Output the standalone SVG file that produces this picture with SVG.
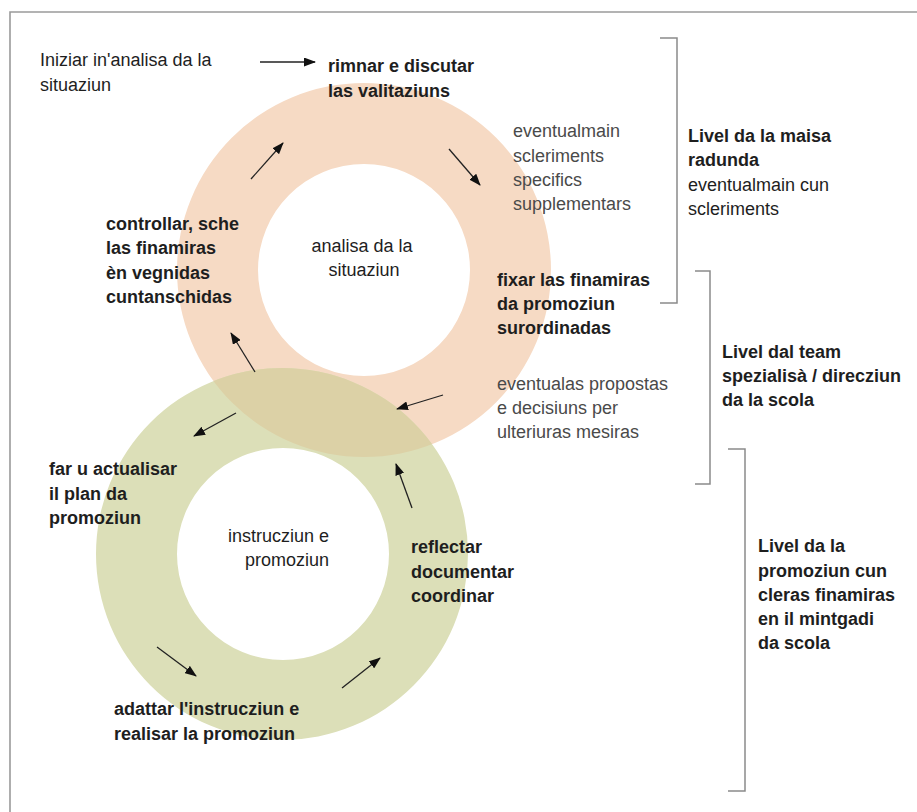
<svg xmlns="http://www.w3.org/2000/svg" width="917" height="812" viewBox="0 0 917 812">
<style>
  text { font-family: "Liberation Sans", Arial, sans-serif; font-size: 18px; fill: #1e1e1e; }
  .b { font-weight: bold; }
  .l { fill: #4a4a4a; }
  .br { fill: none; stroke: #8a8a8a; stroke-width: 1.5; }
  .ar { stroke: #222; stroke-width: 1.3; fill: none; marker-end: url(#ah); }
</style>
<defs>
  <marker id="ah" viewBox="0 0 12 9" refX="11" refY="4.5" markerWidth="12" markerHeight="9" markerUnits="userSpaceOnUse" orient="auto">
    <path d="M0,0 L12,4.5 L0,9 Z" fill="#111"/>
  </marker>
  <path id="ringA" fill-rule="evenodd" d="M177,270 a187,187 0 1,0 374,0 a187,187 0 1,0 -374,0 Z M258,270 a106,106 0 1,0 212,0 a106,106 0 1,0 -212,0 Z"/>
  <clipPath id="clipB">
    <path clip-rule="evenodd" d="M96,554 a186,186 0 1,0 372,0 a186,186 0 1,0 -372,0 Z M177,554 a106,106 0 1,0 212,0 a106,106 0 1,0 -212,0 Z"/>
  </clipPath>
</defs>
<rect width="917" height="812" fill="#fff"/>
<g id="frame" fill="none" stroke="#9a9a9a" stroke-width="1.6">
  <path d="M10,812 V12 H917"/>
</g>

<g id="ring-analisa">
  <use href="#ringA" fill="#f6dac4"/>
</g>
<g id="ring-instrucziun">
  <path fill="#dcdfb8" fill-rule="evenodd" d="M96,554 a186,186 0 1,0 372,0 a186,186 0 1,0 -372,0 Z M177,554 a106,106 0 1,0 212,0 a106,106 0 1,0 -212,0 Z"/>
  <use href="#ringA" fill="#dcd1a6" clip-path="url(#clipB)"/>
</g>

<g id="connectors">
  <line class="ar" x1="260" y1="62" x2="315" y2="62"/>
  <line class="ar" x1="251" y1="179" x2="283" y2="143"/>
  <line class="ar" x1="449" y1="149" x2="480" y2="185"/>
  <line class="ar" x1="443" y1="395" x2="397" y2="409"/>
  <line class="ar" x1="255" y1="372" x2="231" y2="333"/>
  <line class="ar" x1="236" y1="413" x2="194" y2="436"/>
  <line class="ar" x1="412" y1="508" x2="396" y2="464"/>
  <line class="ar" x1="157" y1="647" x2="196" y2="676"/>
  <line class="ar" x1="342" y1="688" x2="380" y2="658"/>
</g>

<g id="brackets">
  <path class="br" d="M660,38 H677 V303 H660"/>
  <path class="br" d="M695,271 H710 V484 H695"/>
  <path class="br" d="M728,449 H745 V791 H728"/>
</g>

<g id="n-iniziar">
  <text x="40" y="66">Iniziar in'analisa da la</text>
  <text x="40" y="91">situaziun</text>
</g>
<g id="n-rimnar">
  <text class="b" x="328" y="72">rimnar e discutar</text>
  <text class="b" x="328" y="97">las valitaziuns</text>
</g>
<g id="n-eventualmain">
  <text class="l" x="513" y="137">eventualmain</text>
  <text class="l" x="513" y="162">scleriments</text>
  <text class="l" x="513" y="186">specifics</text>
  <text class="l" x="513" y="210">supplementars</text>
</g>
<g id="n-livel-maisa">
  <text class="b" x="688" y="142">Livel da la maisa</text>
  <text class="b" x="688" y="166">radunda</text>
  <text x="688" y="191">eventualmain cun</text>
  <text x="688" y="215">scleriments</text>
</g>
<g id="n-analisa">
  <text x="362" y="252" text-anchor="middle">analisa da la</text>
  <text x="364" y="276" text-anchor="middle">situaziun</text>
</g>
<g id="n-controllar">
  <text class="b" x="106" y="230">controllar, sche</text>
  <text class="b" x="106" y="254">las finamiras</text>
  <text class="b" x="106" y="279">èn vegnidas</text>
  <text class="b" x="106" y="303">cuntanschidas</text>
</g>
<g id="n-fixar">
  <text class="b" x="497" y="286">fixar las finamiras</text>
  <text class="b" x="497" y="310">da promoziun</text>
  <text class="b" x="497" y="334">surordinadas</text>
</g>
<g id="n-eventualas">
  <text class="l" x="497" y="390">eventualas propostas</text>
  <text class="l" x="497" y="414">e decisiuns per</text>
  <text class="l" x="497" y="438">ulteriuras mesiras</text>
</g>
<g id="n-livel-team">
  <text class="b" x="722" y="358">Livel dal team</text>
  <text class="b" x="722" y="382">spezialisà / direcziun</text>
  <text class="b" x="722" y="406">da la scola</text>
</g>
<g id="n-far">
  <text class="b" x="49" y="475">far u actualisar</text>
  <text class="b" x="49" y="500">il plan da</text>
  <text class="b" x="49" y="524">promoziun</text>
</g>
<g id="n-instrucziun">
  <text x="329" y="542" text-anchor="end">instrucziun e</text>
  <text x="329" y="566" text-anchor="end">promoziun</text>
</g>
<g id="n-reflectar">
  <text class="b" x="411" y="553">reflectar</text>
  <text class="b" x="411" y="578">documentar</text>
  <text class="b" x="411" y="602">coordinar</text>
</g>
<g id="n-adattar">
  <text class="b" x="114" y="715">adattar l'instrucziun e</text>
  <text class="b" x="114" y="740">realisar la promoziun</text>
</g>
<g id="n-livel-promoziun">
  <text class="b" x="758" y="552">Livel da la</text>
  <text class="b" x="758" y="577">promoziun cun</text>
  <text class="b" x="758" y="601">cleras finamiras</text>
  <text class="b" x="758" y="625">en il mintgadi</text>
  <text class="b" x="758" y="649">da scola</text>
</g>
</svg>
